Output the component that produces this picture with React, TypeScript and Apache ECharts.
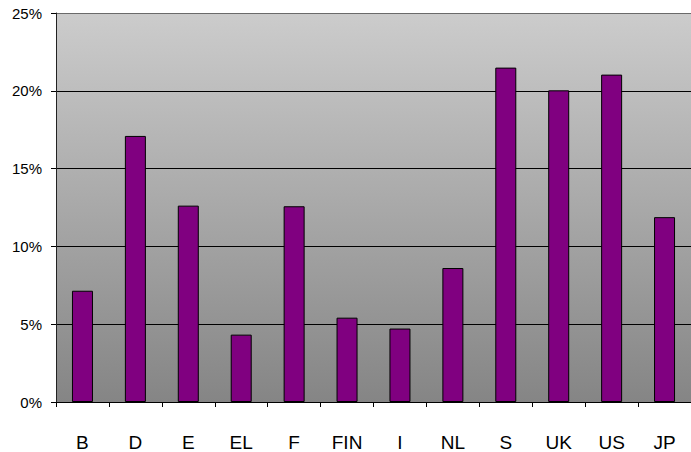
import React, { useEffect, useRef } from "react";
import * as echarts from "echarts";

const categories = ["B", "D", "E", "EL", "F", "FIN", "I", "NL", "S", "UK", "US", "JP"];
const values = [7.15, 17.1, 12.62, 4.33, 12.58, 5.42, 4.72, 8.61, 21.49, 20.03, 21.04, 11.88];
const yTicks = [0, 5, 10, 15, 20, 25];

export default function App() {
  const ref = useRef<HTMLDivElement>(null);
  useEffect(() => {
    if (!ref.current) return;
    const chart = echarts.init(ref.current, null, { renderer: "svg" });
    chart.setOption({
      animation: false,
      backgroundColor: "#ffffff",
      grid: {
        left: 56,
        top: 13,
        width: 636,
        height: 391,
        show: true,
        borderWidth: 0,
        backgroundColor: new echarts.graphic.LinearGradient(0, 0, 0, 1, [
          { offset: 0, color: "#cccccc" },
          { offset: 1, color: "#858585" },
        ]),
      },
      xAxis: {
        type: "category",
        data: categories,
        axisLine: { show: true, lineStyle: { color: "#000", width: 1 } },
        axisTick: { show: true, length: 5, lineStyle: { color: "#000" } },
        axisLabel: {
          fontFamily: "Liberation Sans, Arial, sans-serif",
          fontSize: 19,
          color: "#000",
          margin: 31,
        },
      },
      yAxis: {
        type: "value",
        min: 0,
        max: 25,
        interval: 5,
        axisLine: { show: true, lineStyle: { color: "#222", width: 1 } },
        axisTick: { show: true, length: 5, lineStyle: { color: "#000" } },
        axisLabel: {
          fontFamily: "Liberation Sans, Arial, sans-serif",
          fontSize: 15,
          color: "#000",
          margin: 14,
          formatter: (v: number) => (yTicks.includes(v) ? v + "%" : ""),
        },
        splitLine: {
          show: true,
          lineStyle: { color: ["#000", "#000", "#000", "#000", "#000", "#6a6a6a"], width: 1 },
        },
      },
      series: [
        {
          type: "bar",
          data: values,
          barWidth: 21,
          itemStyle: { color: "#800080", borderColor: "#000", borderWidth: 1 },
        },
      ],
    });
    return () => chart.dispose();
  }, []);
  return <div ref={ref} style={{ width: 691, height: 452, position: "absolute", left: 0, top: 0 }} />;
}
